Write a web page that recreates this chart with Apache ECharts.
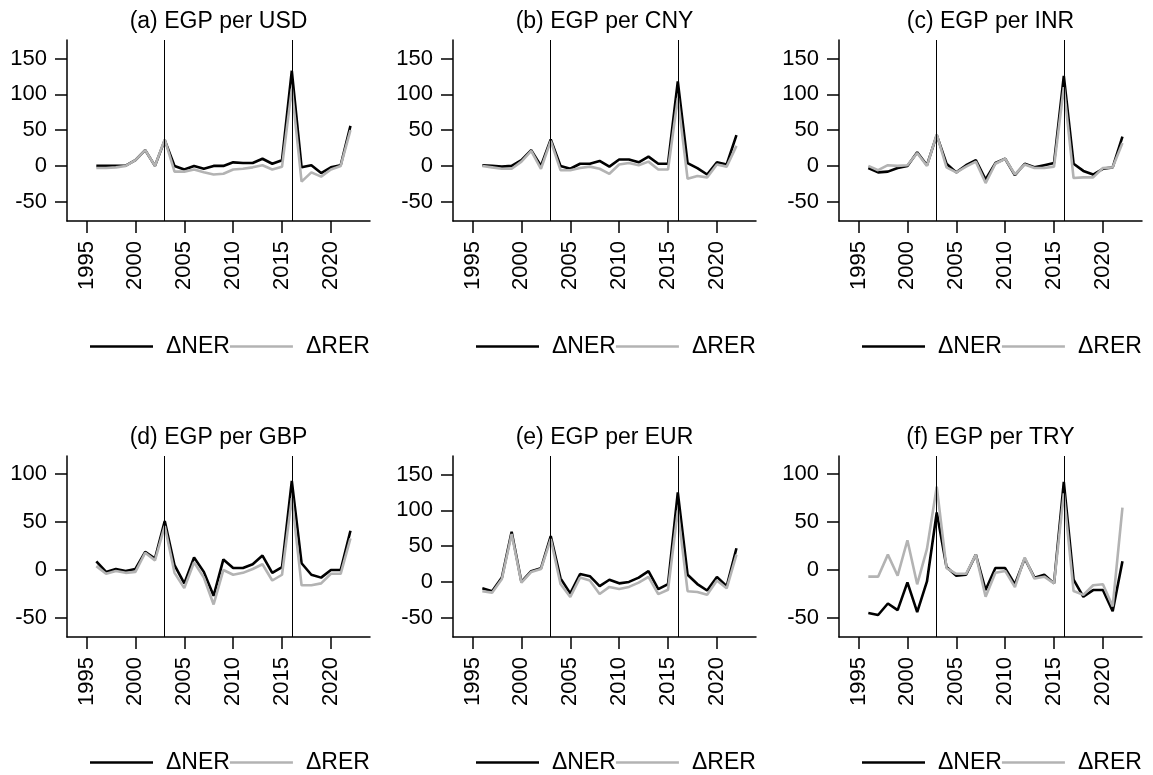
<!DOCTYPE html>
<html>
<head>
<meta charset="utf-8">
<script src="https://cdn.jsdelivr.net/npm/echarts@6/dist/echarts.min.js"></script>
<style>
  html, body { margin: 0; padding: 0; background: #ffffff; }
  #chart { width: 1153px; height: 775px; }
</style>
</head>
<body>
<div id="chart"></div>
<script>
// Annual years of the exchange-rate changes
const years = [1996, 1997, 1998, 1999, 2000, 2001, 2002, 2003, 2004, 2005, 2006, 2007, 2008, 2009,
               2010, 2011, 2012, 2013, 2014, 2015, 2016, 2017, 2018, 2019, 2020, 2021, 2022];

const panelTitles = ['(a) EGP per USD', '(b) EGP per CNY', '(c) EGP per INR',
                     '(d) EGP per GBP', '(e) EGP per EUR', '(f) EGP per TRY'];
const seriesNames = ['\u0394NER', '\u0394RER'];

// Percentage changes of the nominal (NER) and real (RER) exchange rates
const nerUSD = [0, 0, 0, 0.5, 8, 22, 0, 36, 0, -5, 0, -4, 0, 0, 5, 4, 4, 10, 3, 8, 133, -2, 1, -10, -2, 1, 56];
const rerUSD = [-3, -3, -2, 0, 8, 22, 0, 37, -8, -8, -5, -9, -12, -11, -5, -4, -2, 1, -5, -1, 108, -22, -9, -15, -5, 0, 50];

const nerCNY = [1, 0, -1, 0, 8, 22, 0, 37, 0, -4, 3, 3, 7, -1, 9, 9, 5, 13, 3, 3, 118, 4, -3, -12, 5, 2, 43];
const rerCNY = [0, -2, -4, -4, 6, 21, -4, 35, -6, -6, -3, -1, -4, -11, 2, 4, 1, 6, -5, -5, 95, -18, -14, -16, 2, -1, 28];

const nerINR = [-3, -9, -8, -3, 0, 19, 1, 43, 3, -9, 1, 8, -19, 4, 10, -13, 3, -2, 1, 4, 126, 3, -7, -12, -4, -2, 41];
const rerINR = [0, -6, 1, 0, 1, 18, 0, 44, -2, -9, -1, 6, -24, 3, 10, -12, 2, -3, -3, -1, 110, -17, -16, -16, -3, -2, 32];

const nerGBP = [9, -2, 1, -1, 1, 19, 12, 51, 5, -14, 13, -2, -27, 11, 2, 2, 6, 15, -3, 3, 93, 7, -5, -8, 0, 0, 41];
const rerGBP = [4, -4, -1, -3, -2, 18, 10, 46, -3, -19, 8, -8, -36, 0, -5, -3, 1, 6, -11, -5, 75, -16, -16, -14, -4, -4, 33];

const nerEUR = [-9, -13, 6, 70, 0, 15, 19, 64, 5, -16, 11, 8, -6, 3, -2, 0, 6, 15, -10, -3, 125, 10, -3, -12, 7, -6, 47];
const rerEUR = [-13, -15, 4, 67, -1, 14, 18, 60, -3, -21, 6, 2, -17, -7, -10, -7, -1, 7, -17, -11, 100, -13, -14, -18, 2, -9, 38];

const nerTRY = [-45, -47, -35, -42, -13, -44, -12, 60, 3, -6, -5, 16, -21, 2, 2, -15, 12, -8, -5, -14, 92, -10, -28, -21, -21, -43, 9];
const rerTRY = [-7, -7, 16, -6, 31, -15, 22, 87, 2, -4, -4, 16, -28, -3, -1, -18, 13, -9, -7, -14, 80, -22, -26, -16, -15, -38, 65];

// Axis tick values
const xTicks = [1995, 2000, 2005, 2010, 2015, 2020];
const yTicksWide = [-50, 0, 50, 100, 150];
const yTicksNarrow = [-50, 0, 50, 100];
const eventYears = [2003, 2016];

const panels = [
  { title: panelTitles[0], ner: nerUSD, rer: rerUSD, ticks: yTicksWide, range: [-77, 176] },
  { title: panelTitles[1], ner: nerCNY, rer: rerCNY, ticks: yTicksWide, range: [-77, 176] },
  { title: panelTitles[2], ner: nerINR, rer: rerINR, ticks: yTicksWide, range: [-77, 176] },
  { title: panelTitles[3], ner: nerGBP, rer: rerGBP, ticks: yTicksNarrow, range: [-70, 119] },
  { title: panelTitles[4], ner: nerEUR, rer: rerEUR, ticks: yTicksWide, range: [-77, 176] },
  { title: panelTitles[5], ner: nerTRY, rer: rerTRY, ticks: yTicksNarrow, range: [-70, 119] }
];

// Layout of the 2 x 3 small multiples
const colLeft = [67, 453, 839];
const plotWidth = 303;
const rowTop = [40, 456];
const plotHeight = 181;
const legendLeft = [90, 476, 862];
const legendTop = [335, 751];

const FONT = '"Liberation Sans", Arial, Helvetica, sans-serif';
const BLACK = '#000000';
const GREY = '#b3b3b3';

const grid = [], xAxis = [], yAxis = [], series = [], legend = [], graphic = [];

panels.forEach((p, i) => {
  const col = i % 3, row = Math.floor(i / 3);
  const left = colLeft[col], top = rowTop[row];

  grid.push({ left: left, top: top, width: plotWidth, height: plotHeight, containLabel: false });

  xAxis.push({
    type: 'value', gridIndex: i, min: 1993, max: 2024, position: 'bottom',
    axisLine: { show: true, onZero: false, lineStyle: { color: BLACK, width: 1.5 } },
    axisTick: { show: true, customValues: xTicks, length: 12, lineStyle: { color: BLACK, width: 1.5 } },
    axisLabel: {
      customValues: xTicks, rotate: 90, margin: 20, color: BLACK, fontSize: 22, fontFamily: FONT,
      formatter: v => String(v)
    },
    splitLine: { show: false }
  });

  yAxis.push({
    type: 'value', gridIndex: i, min: p.range[0], max: p.range[1], position: 'left',
    axisLine: { show: true, onZero: false, lineStyle: { color: BLACK, width: 1.5 } },
    axisTick: { show: true, customValues: p.ticks, length: 12, lineStyle: { color: BLACK, width: 1.5 } },
    axisLabel: { customValues: p.ticks, margin: 20, color: BLACK, fontSize: 22, fontFamily: FONT },
    splitLine: { show: false }
  });

  series.push({
    type: 'line', name: seriesNames[0], xAxisIndex: i, yAxisIndex: i,
    data: years.map((y, k) => [y, p.ner[k]]),
    symbol: 'none', showSymbol: false, emphasis: { disabled: true }, silent: true,
    lineStyle: { color: BLACK, width: 2.6 }, itemStyle: { color: BLACK },
    markLine: {
      silent: true, symbol: ['none', 'none'], label: { show: false },
      lineStyle: { color: BLACK, width: 1, type: 'solid' },
      data: eventYears.map(v => ({ xAxis: v }))
    }
  });
  series.push({
    type: 'line', name: seriesNames[1], xAxisIndex: i, yAxisIndex: i,
    data: years.map((y, k) => [y, p.rer[k]]),
    symbol: 'none', showSymbol: false, emphasis: { disabled: true }, silent: true,
    lineStyle: { color: GREY, width: 2.6 }, itemStyle: { color: GREY }
  });

  legend.push({
    data: seriesNames, left: legendLeft[col], top: legendTop[row], padding: 0,
    icon: 'rect', itemWidth: 63, itemHeight: 2.6, itemGap: 0, selectedMode: false,
    textStyle: { color: BLACK, fontSize: 23, fontFamily: FONT, padding: [0, 0, 0, 8] }
  });

  graphic.push({
    type: 'text', x: left + plotWidth / 2, y: top - 18.5, silent: true,
    style: {
      text: p.title, fill: BLACK, fontSize: 23, fontFamily: FONT,
      textAlign: 'center', textVerticalAlign: 'middle', align: 'center', verticalAlign: 'middle'
    }
  });
});

const chart = echarts.init(document.getElementById('chart'), null, { renderer: 'canvas' });
chart.setOption({
  animation: false,
  backgroundColor: '#ffffff',
  grid: grid, xAxis: xAxis, yAxis: yAxis, series: series, legend: legend, graphic: graphic
});
</script>
</body>
</html>
